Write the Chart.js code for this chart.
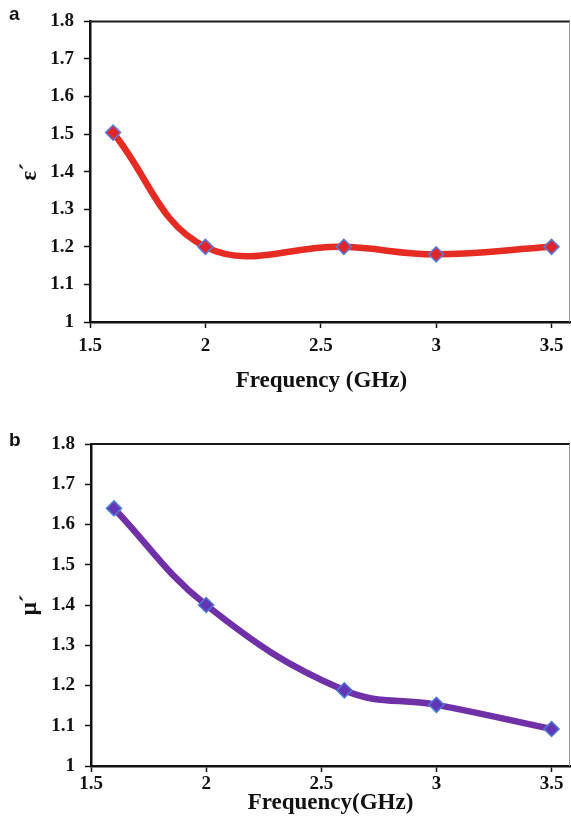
<!DOCTYPE html>
<html>
<head>
<meta charset="utf-8">
<script src="https://cdn.jsdelivr.net/npm/chart.js@4"></script>
<style>
  html, body { margin: 0; padding: 0; background: #fff; }
  .panel { position: relative; width: 571px; }
  .tag { position: absolute; font: bold 19px "Liberation Sans", Arial, sans-serif; color: #111; }
  canvas { display: block; }
</style>
</head>
<body>
<div class="panel" style="height:400px">
  <div class="tag" style="left:9px;top:3px">a</div>
  <canvas id="chartA" width="571" height="400"></canvas>
</div>
<div class="panel" style="height:419px">
  <div class="tag" style="left:9px;top:29px">b</div>
  <canvas id="chartB" width="571" height="419"></canvas>
</div>
<script>
// frequency (GHz) and measured values
const freqA = [1.6, 2, 2.6, 3, 3.5];
const epsReal = [1.504, 1.2, 1.2, 1.18, 1.2];
const freqB = [1.6, 2, 2.6, 3, 3.5];
const muReal = [1.64, 1.40, 1.188, 1.152, 1.092];
const xTicks = [1.5, 2, 2.5, 3, 3.5];
const yTicks = [1, 1.1, 1.2, 1.3, 1.4, 1.5, 1.6, 1.7, 1.8];

const tickFont = {family: '"Liberation Serif", "Times New Roman", serif', size: 19, weight: 'bold'};
const titleFont = {family: '"Liberation Serif", "Times New Roman", serif', size: 23, weight: 'bold'};

// top and right edges of the plot box
const frame = {
    id: 'frame',
    beforeDatasetsDraw(chart) {
        const {ctx, chartArea: a} = chart;
        ctx.save();
        ctx.strokeStyle = '#1a1a1a';
        ctx.lineWidth = 2;
        ctx.beginPath();
        ctx.moveTo(a.left, a.top);
        ctx.lineTo(a.right, a.top);
        ctx.stroke();
        ctx.strokeStyle = '#9a9a9a';
        ctx.lineWidth = 1;
        ctx.beginPath();
        ctx.moveTo(a.right - 0.5, a.top);
        ctx.lineTo(a.right - 0.5, a.bottom);
        ctx.stroke();
        ctx.restore();
    }
};

function fmt(v) {
    return String(Math.round(v * 10) / 10);
}

function makeChart(id, xs, ys, cfg) {
    const ctx = document.getElementById(id).getContext('2d');
    return new Chart(ctx, {
        type: 'line',
        data: {
            datasets: [{
                data: xs.map((x, i) => ({x: x, y: ys[i]})),
                borderColor: cfg.line,
                borderWidth: 6.5,
                tension: 0.4,
                pointStyle: 'rectRot',
                pointRadius: 7.5,
                pointBackgroundColor: cfg.fill,
                pointBorderColor: cfg.edge,
                pointBorderWidth: 1.5,
                fill: false
            }]
        },
        options: {
            responsive: false,
            animation: false,
            layout: {autoPadding: false, padding: {top: cfg.top, right: 1, left: 0, bottom: 0}},
            plugins: {legend: {display: false}, tooltip: {enabled: false}},
            scales: {
                x: {
                    type: 'linear',
                    min: 1.5,
                    max: 3.58,
                    afterBuildTicks: s => { s.ticks = xTicks.map(v => ({value: v})); },
                    afterFit: s => { s.height = cfg.xh; s.paddingLeft = 0; s.paddingRight = 0; },
                    ticks: {font: tickFont, color: '#111', padding: cfg.tp, maxRotation: 0, callback: fmt},
                    grid: {drawOnChartArea: false, drawTicks: true, tickLength: 6, tickColor: '#111', tickWidth: 1.5},
                    border: {display: true, color: '#111', width: 2.5},
                    title: {display: true, text: cfg.xTitle, font: titleFont, color: '#111', padding: {top: 0, bottom: cfg.tb}}
                },
                y: {
                    type: 'linear',
                    min: 1,
                    max: 1.8,
                    afterBuildTicks: s => { s.ticks = yTicks.map(v => ({value: v})); },
                    afterFit: s => { s.width = cfg.yw; },
                    ticks: {font: tickFont, color: '#111', padding: 10, callback: fmt},
                    grid: {drawOnChartArea: false, drawTicks: true, tickLength: 6, tickColor: '#111', tickWidth: 1.5},
                    border: {display: true, color: '#111', width: 2.5},
                    title: {display: true, text: cfg.yTitle, font: titleFont, color: '#111', padding: {top: 16, bottom: 0}}
                }
            }
        },
        plugins: [frame]
    });
}

makeChart('chartA', freqA, epsReal, {
    line: '#e52b22', fill: '#e0262c', edge: '#5a7ad6',
    top: 21, xh: 78, yw: 90, tp: 7, tb: 5,
    xTitle: 'Frequency (GHz)   ', yTitle: 'ε´'
});

makeChart('chartB', freqB, muReal, {
    line: '#7030a8', fill: '#6236b4', edge: '#4d7bd8',
    top: 44, xh: 53, yw: 91, tp: 1, tb: 2,
    xTitle: 'Frequency(GHz)', yTitle: 'μ´'
});
</script>
</body>
</html>
